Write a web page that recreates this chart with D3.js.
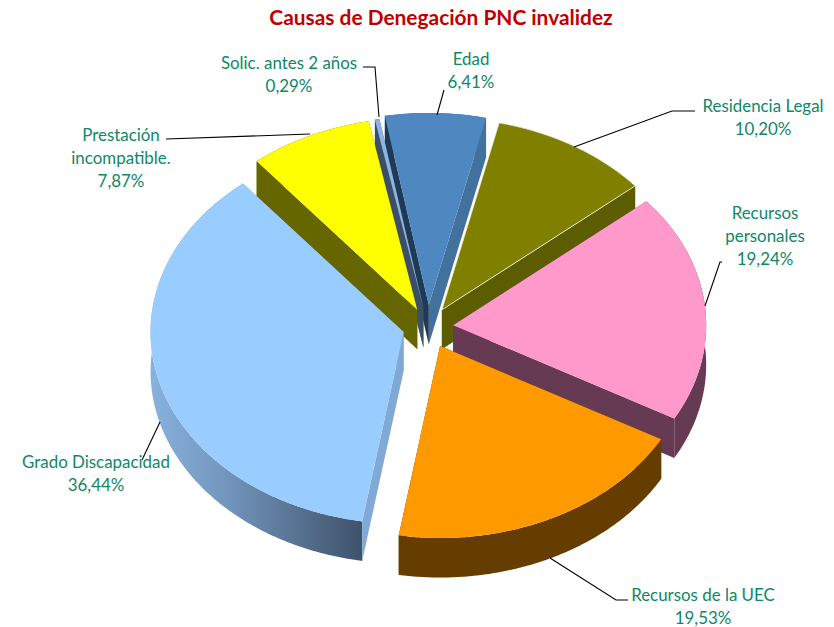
<!DOCTYPE html>
<html><head><meta charset="utf-8">
<script src="https://cdnjs.cloudflare.com/ajax/libs/d3/7.8.5/d3.min.js"></script>
<style>html,body{margin:0;padding:0;background:#fff}svg{display:block}text{font-family:Lato,"Noto Sans",sans-serif}</style>
</head><body><svg id="c" width="834" height="627"></svg>
<script>
const titleText = "Causas de Denegación PNC invalidez";
const categories = ["Edad","Residencia Legal","Recursos personales","Recursos de la UEC","Grado Discapacidad","Prestación incompatible.","Solic. antes 2 años"];
const values = [6.41,10.20,19.24,19.53,36.44,7.87,0.29];
const explode = [0.115,0.105,0.10,0.11,0.10,0.10,0.10];
const topColors = ["#4f88c0","#808000","#ff99cc","#ff9900","#99ccff","#ffff00","#8eb4e3"];
const startWall = ["#1f3a56","#5c5c00","#663a52","#663d00","#80a9d6","#666600","#3b4f66"];
const endWall   = ["#41719c","#5c5c00","#663a52","#663d00","#80a9d6","#666600","#3b4f66"];
const rimColors = ["#41719c","#5c5c00","#663a52","#663d00","url(#rimG)","#666600","#3b4f66"];
const drawOrder = [0,6,1,5,2,4,3];
const labelLines = [["Edad"],["Residencia Legal"],["Recursos","personales"],["Recursos de la UEC"],["Grado Discapacidad"],["Prestación","incompatible."],["Solic. antes 2 años"]];

// layout
const L = {cx:428,cy:327,rx:253,ry:192,depth:39.5,start:-10};
const labelLayout = [
 {x:471,y:65,lead:[[444,90],[437,115]]},
 {x:763,y:112,lead:[[695,111],[672,111],[574,147]]},
 {x:765,y:219,lead:[[722,262],[720,262],[705,306]]},
 {x:703,y:601,lead:[[628,600],[616,600],[550,558]]},
 {x:96,y:468,lead:[[142,460],[160,422]]},
 {x:121,y:141,lead:[[166,139],[310,134]]},
 {x:289,y:69,lead:[[363,67],[375,67],[379,117]]}
];
const lineH = 23;

const svg = d3.select("#c");
const sx = d3.scaleLinear().domain([-1,1]).range([-L.rx,L.rx]);
const sy = d3.scaleLinear().domain([-1,1]).range([-L.ry,L.ry]);
const toRad = Math.PI/180;
const pie = d3.pie().sort(null).value(d=>d).startAngle(L.start*toRad).endAngle((L.start+360)*toRad);
const arcs = pie(values);
const line = d3.line();
const fmt = d3.formatLocale({decimal:",",thousands:".",grouping:[3],currency:["","%"]}).format(".2f");

const defs = svg.append("defs");
const g = defs.append("linearGradient").attr("id","rimG").attr("gradientUnits","userSpaceOnUse")
  .attr("x1",151).attr("x2",362).attr("y1",0).attr("y2",0);
g.append("stop").attr("offset","0").attr("stop-color","#88b1de");
g.append("stop").attr("offset","0.35").attr("stop-color","#7396bd");
g.append("stop").attr("offset","1").attr("stop-color","#3f526b");

function geom(i){
  const a = arcs[i], mid=(a.startAngle+a.endAngle)/2, e=explode[i];
  const tx = L.cx + sx(e*Math.sin(mid)), ty = L.cy - sy(e*Math.cos(mid));
  const pt = (t,dz=0)=>[tx+sx(Math.sin(t)), ty-sy(Math.cos(t))+dz];
  const n = Math.max(2,Math.ceil((a.endAngle-a.startAngle)/0.01));
  const ts = d3.range(n+1).map(k=>a.startAngle+(a.endAngle-a.startAngle)*k/n);
  return {tx,ty,pt,ts,a};
}
const gPie = svg.append("g");
drawOrder.forEach(i=>{
  const {tx,ty,pt,ts,a} = geom(i);
  const gs = gPie.append("g");
  const D = L.depth;
  gs.append("path").attr("d",line(ts.map(t=>pt(t)).concat(ts.slice().reverse().map(t=>pt(t,D))))+"Z").attr("fill",rimColors[i]);
  gs.append("path").attr("d",line([[tx,ty],pt(a.endAngle),pt(a.endAngle,D),[tx,ty+D]])+"Z").attr("fill",endWall[i]);
  gs.append("path").attr("d",line([[tx,ty],pt(a.startAngle),pt(a.startAngle,D),[tx,ty+D]])+"Z").attr("fill",startWall[i]);
  gs.append("path").attr("d",line([[tx,ty]].concat(ts.map(t=>pt(t))))+"Z").attr("fill",topColors[i])
    .attr("stroke",i===1?"#fff":"none").attr("stroke-width",i===1?0.8:0);
});
labelLayout.forEach(l=>{
  svg.append("path").attr("d",line(l.lead)).attr("fill","none").attr("stroke","#000").attr("stroke-width",1.1);
});
categories.forEach((c,i)=>{
  const l = labelLayout[i];
  const t = svg.append("text").attr("text-anchor","middle").attr("fill","#0f8768").attr("font-size",16.9);
  labelLines[i].concat([fmt(values[i])+"%"]).forEach((s,k)=>{
    t.append("tspan").attr("x",l.x).attr("y",l.y+k*lineH).text(s);
  });
});
svg.append("text").attr("x",441).attr("y",25).attr("text-anchor","middle").attr("fill","#c00000")
  .attr("font-size",20.9).attr("font-weight",700).text(titleText);
</script></body></html>
